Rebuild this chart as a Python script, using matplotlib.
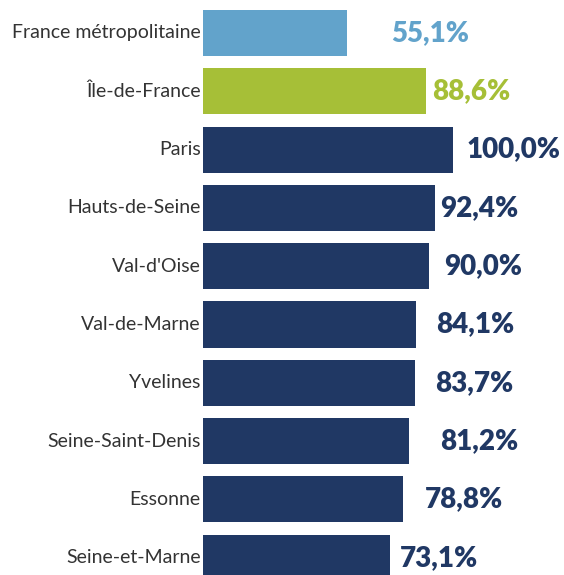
import matplotlib
matplotlib.use("Agg")
import matplotlib.pyplot as plt

categories = ["France métropolitaine", "Île-de-France", "Paris", "Hauts-de-Seine",
              "Val-d'Oise", "Val-de-Marne", "Yvelines", "Seine-Saint-Denis",
              "Essonne", "Seine-et-Marne"]
values = [55.1, 88.6, 100.0, 92.4, 90.0, 84.1, 83.7, 81.2, 78.8, 73.1]
value_labels = ["55,1%", "88,6%", "100,0%", "92,4%", "90,0%",
                "84,1%", "83,7%", "81,2%", "78,8%", "73,1%"]

colors = ["#62A3CB", "#A6BF37"] + ["#203864"] * 8
# extra horizontal nudge of each value label (points), as in the original
label_nudge = [30, 3, 8, 2, 9, 13, 13, 21, 14, 6]

plt.rcParams['font.family'] = ['Lato', 'DejaVu Sans']

fig = plt.figure(figsize=(5.64, 5.75), dpi=100)
ax = fig.add_axes([0, 0, 1, 1])

base = -6
y = list(range(len(categories)))
ax.barh(y, [v - base for v in values], left=base, height=0.79, color=colors)

for i in y:
    ax.annotate(value_labels[i], (values[i], i), xytext=(1.5 + label_nudge[i], 0),
                textcoords="offset points", va="center", ha="left",
                fontsize=20, fontweight="heavy", color=colors[i])
    ax.annotate(categories[i], (base, i), xytext=(-1.5, 0), textcoords="offset points",
                va="center", ha="right", fontsize=14, color="#333333")

ax.set_xlim(-92, 147)
ax.set_ylim(9.297, -0.566)
ax.axis("off")

fig.savefig("out.png", dpi=100)
